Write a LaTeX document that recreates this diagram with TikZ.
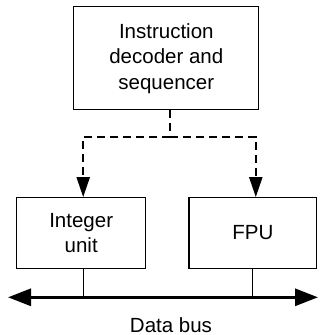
\documentclass[tikz,border=0pt]{standalone}
\usepackage{fontspec}
\setmainfont{Liberation Sans}
\usetikzlibrary{arrows.meta}
\begin{document}
\begin{tikzpicture}[x=1pt,y=-1pt,
  blk/.style={draw,line width=1.2pt,align=center,inner sep=0pt,
    font=\fontsize{20.5}{25.5}\selectfont},
  ctl/.style={line width=2.2pt,dash pattern=on 8pt off 5pt,
    -{Triangle[length=20pt,width=13pt]}},
  bus/.style={line width=3pt,{Triangle[length=23pt,width=17pt]}-{Triangle[length=23pt,width=17pt]}},
  tap/.style={line width=1.2pt}]
\useasboundingbox (0,0) rectangle (320,335);
\node[blk,minimum width=185pt,minimum height=103pt] (dec) at (166.3,58.3)
  {Instruction\\decoder and\\sequencer};
\node[blk,minimum width=129pt,minimum height=70.6pt] (int) at (81.2,233)
  {Integer\\unit};
\node[blk,minimum width=127.7pt,minimum height=70.6pt] (fpu) at (252.8,233)
  {FPU};
\coordinate (j) at (170,136.7);
\coordinate (bl) at (8,297.3);
\coordinate (br) at (318,297.3);
\draw[line width=2.2pt,dash pattern=on 8pt off 5pt] ([xshift=3.7pt]dec.south) -- (j);
\draw[ctl] (j) -| ([xshift=2pt]int.north);
\draw[ctl] (j) -| ([xshift=3pt]fpu.north);
\draw[bus] (bl) -- (br);
\draw[tap] ([xshift=2.5pt]int.south) -- ([xshift=2.5pt]int.south |- bl);
\draw[tap] (fpu.south) -- (fpu.south |- bl);
\node[font=\fontsize{20.5}{25.5}\selectfont,inner sep=0pt,anchor=base] (lbl) at (171,332) {Data bus};
\end{tikzpicture}
\end{document}
